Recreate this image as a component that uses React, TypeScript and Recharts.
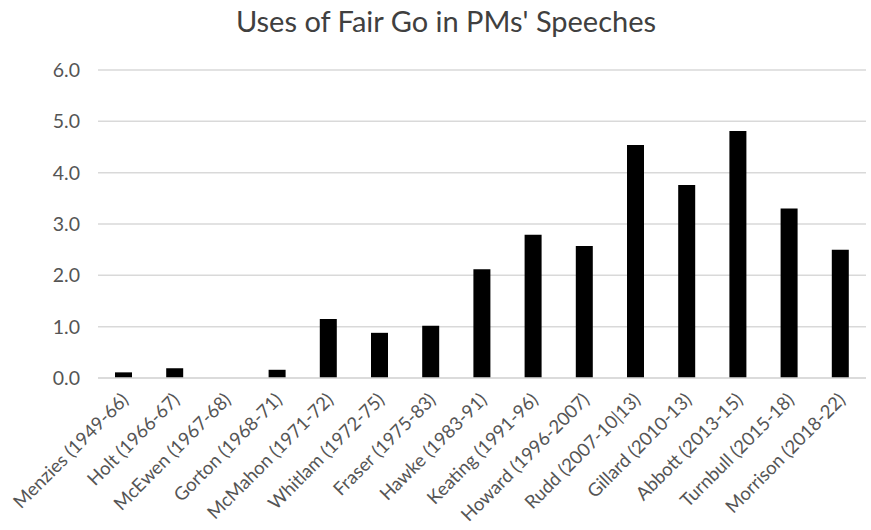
import { BarChart, Bar, XAxis, YAxis, CartesianGrid } from 'recharts';

const PRIME_MINISTERS = [
  'Menzies (1949-66)',
  'Holt (1966-67)',
  'McEwen (1967-68)',
  'Gorton (1968-71)',
  'McMahon (1971-72)',
  'Whitlam (1972-75)',
  'Fraser (1975-83)',
  'Hawke (1983-91)',
  'Keating (1991-96)',
  'Howard (1996-2007)',
  'Rudd (2007-10|13)',
  'Gillard (2010-13)',
  'Abbott (2013-15)',
  'Turnbull (2015-18)',
  'Morrison (2018-22)',
];

const FAIR_GO_USES = [0.11, 0.19, 0, 0.16, 1.15, 0.88, 1.02, 2.12, 2.79, 2.57, 4.54, 3.76, 4.81, 3.3, 2.5];

const Y_TICKS = [0, 1, 2, 3, 4, 5, 6];

const data = PRIME_MINISTERS.map((name, i) => ({ name, uses: FAIR_GO_USES[i] }));

const FONT = 'Lato, "Open Sans", sans-serif';
const TEXT = '#555555';

function AngledTick({ x, y, payload }: any) {
  return (
    <text
      x={x + 6}
      y={y + 15}
      transform={`rotate(-45, ${x + 6}, ${y + 15})`}
      textAnchor="end"
      fill={TEXT}
      fontSize={18.5}
      fontFamily={FONT}
    >
      {payload.value}
    </text>
  );
}

export default function App() {
  return (
    <div style={{ position: 'absolute', left: 0, top: 0, width: 871, height: 530, background: '#fff' }}>
      <div
        style={{
          position: 'absolute',
          left: 0,
          top: 3,
          width: 892,
          textAlign: 'center',
          fontFamily: FONT,
          fontSize: 29,
          color: '#404040',
        }}
      >
        Uses of Fair Go in PMs' Speeches
      </div>
      <BarChart width={871} height={530} data={data} margin={{ top: 70, right: 5, bottom: 0, left: 0 }} barSize={17}>
        <CartesianGrid vertical={false} stroke="#d9d9d9" strokeWidth={1.5} />
        <XAxis
          dataKey="name"
          interval={0}
          axisLine={{ stroke: '#d9d9d9', strokeWidth: 1.5 }}
          tickLine={false}
          height={152}
          tick={<AngledTick />}
        />
        <YAxis
          domain={[0, 6]}
          ticks={Y_TICKS}
          width={98}
          axisLine={false}
          tickLine={false}
          tickSize={0}
          tickMargin={18}
          tickFormatter={(v: number) => v.toFixed(1)}
          tick={{ fill: TEXT, fontSize: 19.5, fontFamily: FONT }}
        />
        <Bar dataKey="uses" fill="#000" isAnimationActive={false} />
      </BarChart>
    </div>
  );
}
